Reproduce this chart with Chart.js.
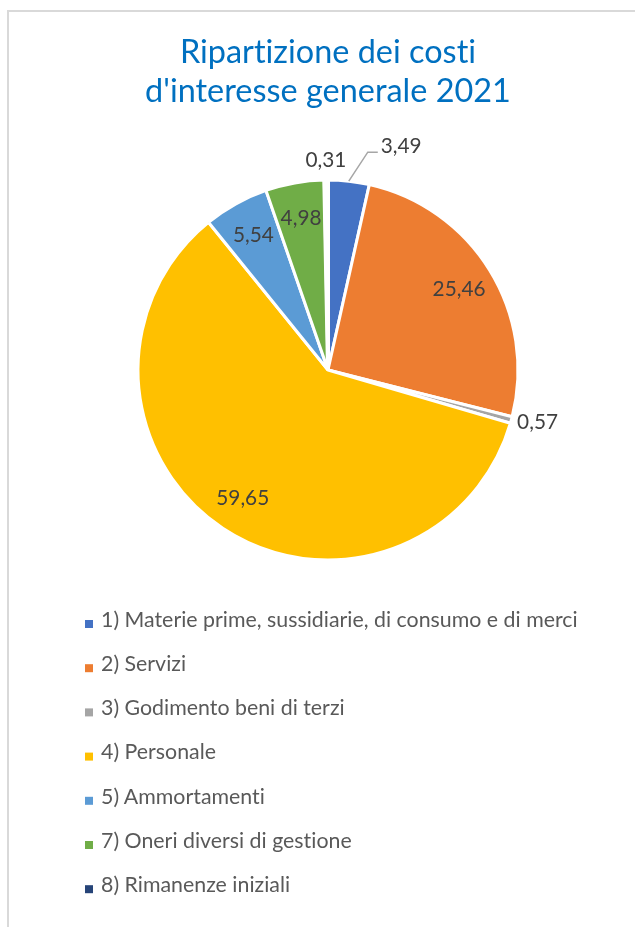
<!DOCTYPE html>
<html><head><meta charset="utf-8">
<script src="https://cdn.jsdelivr.net/npm/chart.js@4.4.0/dist/chart.umd.min.js"></script>
<style>
html,body{margin:0;padding:0;background:#fff;width:635px;height:927px;overflow:hidden;}
#frame{position:absolute;left:7px;top:10px;width:720px;height:1000px;border-left:2px solid #d9d9d9;border-top:2px solid #d9d9d9;box-sizing:border-box;}
#c{position:absolute;left:0;top:0;}
</style></head><body>
<div id="frame"></div>
<canvas id="c" width="635" height="927"></canvas>
<script>
// ---- data ----
const titleLines = ['Ripartizione dei costi', "d'interesse generale 2021"];
const categories = [
  '1) Materie prime, sussidiarie, di consumo e di merci',
  '2) Servizi',
  '3) Godimento beni di terzi',
  '4) Personale',
  '5) Ammortamenti',
  '7) Oneri diversi di gestione',
  '8) Rimanenze iniziali'
];
const values = [3.49, 25.46, 0.57, 59.65, 5.54, 4.98, 0.31];
const colors = ['#4472C4', '#ED7D31', '#A5A5A5', '#FFC000', '#5B9BD5', '#70AD47', '#264478'];

const FONT = 'Lato';
function noLig(ctx) {
  try { ctx.textRendering = 'optimizeLegibility'; } catch (e) {}
  try { ctx.letterSpacing = '0.01px'; } catch (e) {}
}
// fit font sizes to measured text widths of the reference
function fitSize(text, targetW, base) {
  const ctx = document.createElement('canvas').getContext('2d');
  noLig(ctx);
  ctx.font = base + 'px ' + FONT;
  return base * targetW / ctx.measureText(text).width;
}
const titleSize = fitSize(titleLines[1], 366, 30);
const legendSize = fitSize(categories[0], 477, 20);
const labelSize = fitSize('25,46', 53, 20);
const fmt = v => v.toFixed(2).replace('.', ',');

// label placement rules (style, not data)
const labelPlacement = {
  0: {mode: 'leader'},
  2: {mode: 'outsideLeft', gap: 6},
  6: {mode: 'outsideCenter', gap: 20}
};

const ligatureOff = {
  id: 'ligatureOff',
  beforeDraw(chart) { noLig(chart.ctx); }
};

const dataLabels = {
  id: 'dataLabels',
  afterDatasetsDraw(chart) {
    const ctx = chart.ctx;
    const meta = chart.getDatasetMeta(0);
    ctx.save();
    noLig(ctx);
    ctx.font = labelSize + 'px ' + FONT;
    ctx.fillStyle = '#404040';
    ctx.textBaseline = 'middle';
    meta.data.forEach((arc, i) => {
      const {x, y, startAngle, endAngle, outerRadius} = arc.getProps(['x','y','startAngle','endAngle','outerRadius'], true);
      const mid = (startAngle + endAngle) / 2;
      const txt = fmt(chart.data.datasets[0].data[i]);
      const p = labelPlacement[i];
      if (!p) {
        const r = outerRadius * 0.81;
        ctx.textAlign = 'center';
        ctx.fillText(txt, x + Math.cos(mid) * r, y + Math.sin(mid) * r);
      } else if (p.mode === 'outsideLeft') {
        const r = outerRadius + p.gap;
        ctx.textAlign = 'left';
        ctx.fillText(txt, x + Math.cos(mid) * r, y + Math.sin(mid) * r + 1);
      } else if (p.mode === 'outsideCenter') {
        const r = outerRadius + p.gap;
        ctx.textAlign = 'center';
        ctx.fillText(txt, x + Math.cos(mid) * r, y + Math.sin(mid) * r);
      } else if (p.mode === 'leader') {
        const ex = x + Math.cos(mid) * outerRadius, ey = y + Math.sin(mid) * outerRadius;
        const kx = ex + 19, ky = ey - 29;
        ctx.strokeStyle = '#A6A6A6';
        ctx.lineWidth = 1.5;
        ctx.beginPath();
        ctx.moveTo(ex, ey); ctx.lineTo(kx, ky); ctx.lineTo(kx + 10, ky);
        ctx.stroke();
        ctx.textAlign = 'left';
        ctx.fillText(txt, kx + 13, ky - 6);
      }
    });
    ctx.restore();
  }
};

const legendList = {
  id: 'legendList',
  afterDraw(chart) {
    const ctx = chart.ctx;
    ctx.save();
    noLig(ctx);
    ctx.font = legendSize + 'px ' + FONT;
    ctx.textBaseline = 'middle';
    ctx.textAlign = 'left';
    chart.data.labels.forEach((lab, i) => {
      const cy = 624 + i * 44.2;
      ctx.fillStyle = chart.data.datasets[0].backgroundColor[i];
      ctx.fillRect(85, cy - 4, 8, 8);
      ctx.fillStyle = '#595959';
      ctx.fillText(lab, 101, cy - 4);
    });
    ctx.restore();
  }
};

new Chart(document.getElementById('c'), {
  type: 'pie',
  data: {
    labels: categories,
    datasets: [{
      data: values,
      backgroundColor: colors,
      borderColor: '#ffffff',
      borderWidth: [3, 3, 3, 3, 3, 3, 4],
      radius: 190
    }]
  },
  options: {
    responsive: false,
    devicePixelRatio: 1,
    animation: false,
    layout: {padding: {left: 21, right: 0, top: 0, bottom: 318}},
    plugins: {
      legend: {display: false},
      tooltip: {enabled: false},
      title: {
        display: true,
        text: titleLines,
        color: '#0070C0',
        font: {family: FONT, size: titleSize, weight: 'normal', lineHeight: 39 / titleSize},
        padding: {top: 33, bottom: 20}
      }
    }
  },
  plugins: [ligatureOff, dataLabels, legendList]
});
</script>
</body></html>
